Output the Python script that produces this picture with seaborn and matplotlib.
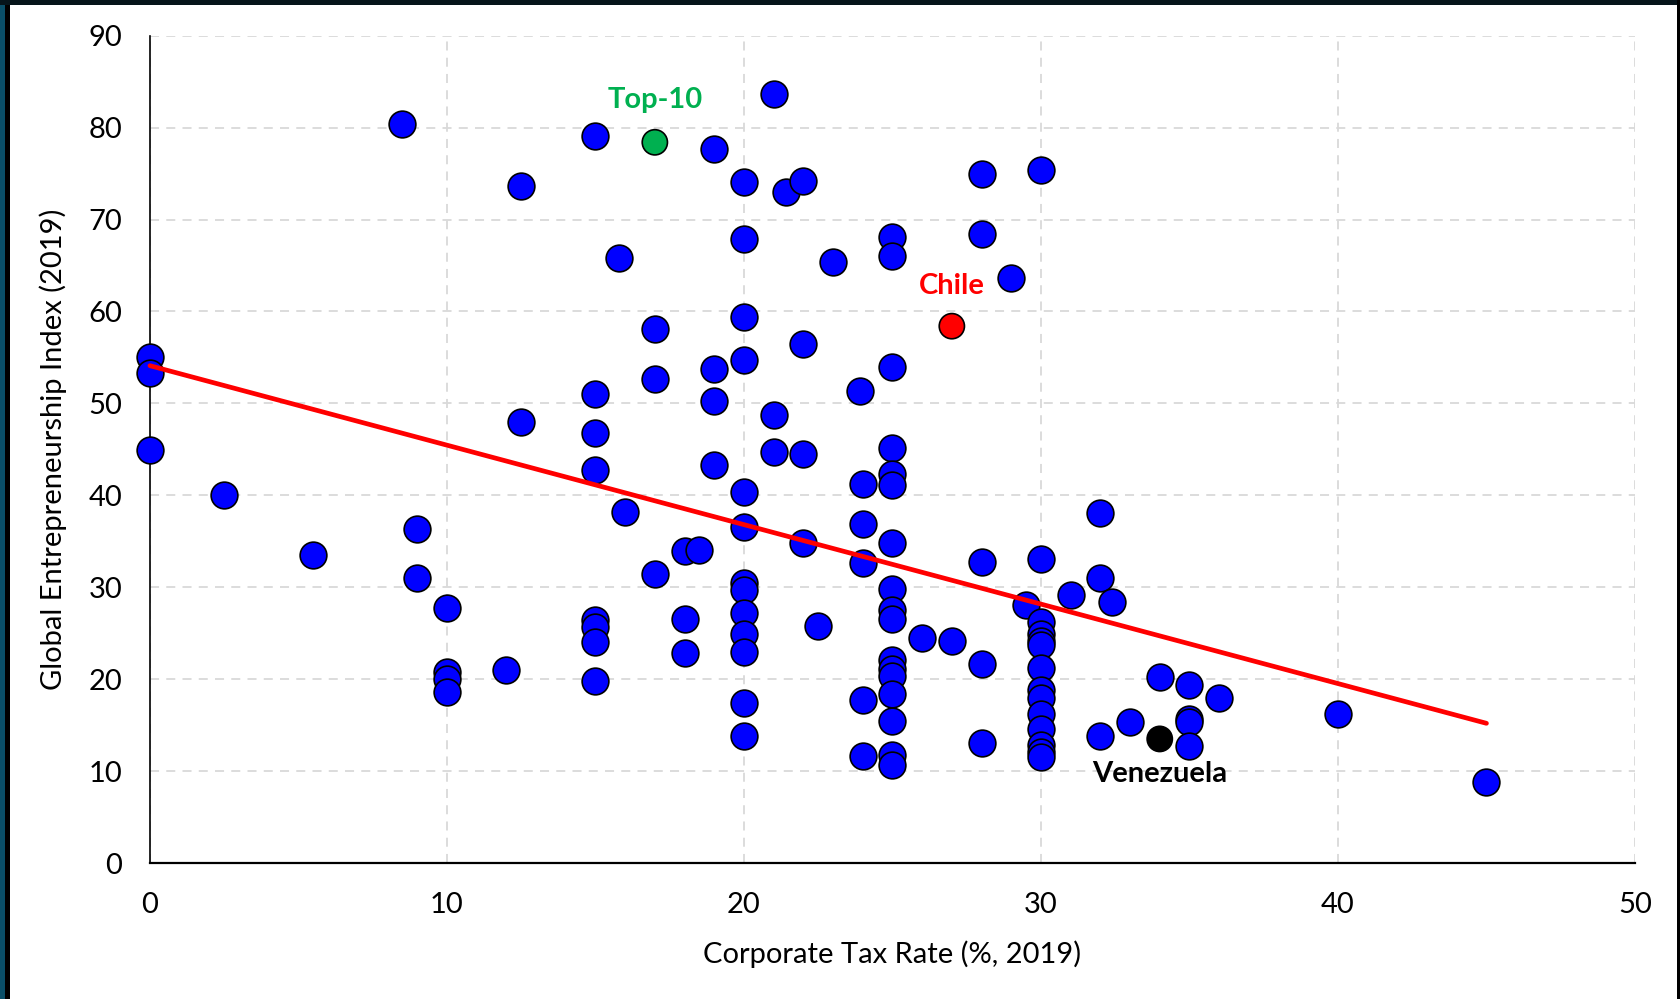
import numpy as np
import pandas as pd
import matplotlib
matplotlib.use("Agg")
import matplotlib.pyplot as plt
from matplotlib.patches import Rectangle
import seaborn as sns

# Corporate tax rate (%) and Global Entrepreneurship Index, 2019
tax_rate = [
    0, 0, 0,
    2.5, 5.5, 8.5, 9, 9,
    10, 10, 10, 10,
    12, 12.5, 12.5,
    15, 15, 15, 15, 15, 15, 15, 15,
    15.8, 16, 17, 17, 17,
    18, 18, 18, 18.5,
    19, 19, 19, 19,
    20, 20, 20, 20, 20, 20, 20, 20, 20, 20, 20, 20, 20,
    21, 21, 21, 21.4,
    22, 22, 22, 22, 22.5, 23, 23.9,
    24, 24, 24, 24, 24,
    25, 25, 25, 25, 25, 25, 25, 25, 25, 25, 25, 25, 25, 25, 25, 25, 25,
    26, 27,
    28, 28, 28, 28, 28, 29, 29.5,
    30, 30, 30, 30, 30, 30, 30, 30, 30, 30, 30, 30, 30, 30,
    31, 32, 32, 32, 32.4, 33, 34,
    35, 35, 35, 35, 36, 40, 45,
]
gei_index = [
    55.0, 53.3, 44.9,
    40.0, 33.5, 80.4, 36.3, 31.0,
    27.7, 20.8, 20.0, 18.6,
    21.0, 73.7, 48.0,
    79.1, 51.0, 46.8, 42.7, 26.4, 25.7, 24.0, 19.8,
    65.8, 38.2, 58.1, 52.6, 31.4,
    33.9, 26.6, 22.8, 34.1,
    77.7, 53.7, 50.3, 43.3,
    74.1, 67.9, 59.4, 54.7, 40.4, 36.5, 30.5, 29.7, 27.2, 24.9, 23.0, 17.4, 13.8,
    83.6, 48.7, 44.7, 73.0,
    74.2, 56.5, 44.5, 34.8, 25.8, 65.4, 51.3,
    41.2, 36.9, 32.6, 17.7, 11.6,
    68.1, 66.0, 54.0, 45.1, 42.3, 41.1, 34.8, 29.8, 27.5, 26.5, 22.1, 21.1, 20.3, 18.4, 15.5, 11.7, 10.7,
    24.5, 24.1,
    74.9, 68.4, 32.8, 21.7, 13.1, 63.6, 28.1,
    75.4, 33.1, 26.2, 24.9, 24.2, 23.7, 21.2, 18.8, 18.0, 16.2, 14.6, 12.8, 12.1, 11.5,
    29.2, 38.1, 31.0, 13.8, 28.4, 15.3, 20.2,
    19.4, 15.7, 15.3, 12.7, 18.0, 16.2, 8.8,
]

# Highlighted countries
highlight_names = ["Top-10", "Chile", "Venezuela"]
highlight_tax = [17, 27, 34]
highlight_gei = [78.4, 58.4, 13.5]
highlight_colors = ["#00b050", "#ff0000", "#000000"]
label_y = [83.0, 62.8, 9.7]

# Linear trend endpoints
trend_tax = [0, 45]
trend_gei = [54.1, 15.2]

x_ticks = [0, 10, 20, 30, 40, 50]
y_ticks = [0, 10, 20, 30, 40, 50, 60, 70, 80, 90]

sns.set_theme(style="white")
plt.rcParams["font.family"] = ["Lato", "DejaVu Sans"]

fig = plt.figure(figsize=(16.81, 9.99), dpi=100)
fig.patch.set_facecolor("white")
ax = fig.add_axes([0.0892, 0.1361, 0.8834, 0.8282])

df = pd.DataFrame({"tax": tax_rate, "gei": gei_index})
sns.scatterplot(data=df, x="tax", y="gei", ax=ax, s=370, color="#0000ff",
                edgecolor="black", linewidth=1.2, zorder=3, legend=False)

trend = pd.DataFrame({"tax": trend_tax, "gei": trend_gei})
sns.lineplot(data=trend, x="tax", y="gei", ax=ax, color="#ff0000",
             linewidth=3.4, zorder=4, legend=False)

hl = pd.DataFrame({"name": highlight_names, "tax": highlight_tax, "gei": highlight_gei})
sns.scatterplot(data=hl, x="tax", y="gei", hue="name", palette=highlight_colors,
                ax=ax, s=330, edgecolor="black", linewidth=1.2, zorder=5, legend=False)

for coll in ax.collections:
    coll.set_clip_on(False)
for line in ax.lines:
    line.set_clip_on(False)

for name, tx, ly, col in zip(highlight_names, highlight_tax, label_y, highlight_colors):
    ax.text(tx, ly, name, color=col, fontsize=21, fontweight="bold",
            ha="center", va="center", zorder=6)

ax.set_xlim(0, 50)
ax.set_ylim(0, 90)
ax.set_xticks(x_ticks)
ax.set_yticks(y_ticks)
ax.grid(True, color="#d9d9d9", linestyle=(0, (5, 4)), linewidth=1.3)
ax.set_axisbelow(True)
for side in ["top", "right"]:
    ax.spines[side].set_visible(False)
ax.spines["left"].set_color("black")
ax.spines["left"].set_linewidth(1.2)
ax.spines["bottom"].set_color("black")
ax.spines["bottom"].set_linewidth(1.6)
ax.spines["left"].set_zorder(2)
ax.tick_params(axis="both", length=0, labelsize=21, colors="black")
ax.tick_params(axis="x", pad=21)
ax.tick_params(axis="y", pad=20)
ax.set_xlabel("Corporate Tax Rate (%, 2019)", fontsize=21, labelpad=16, color="black")
ax.set_ylabel("Global Entrepreneurship Index (2019)", fontsize=21, labelpad=15, color="black")

# Frame around the canvas
W, H = 1681, 999
def px_rect(x, y, w, h, color):
    fig.patches.append(Rectangle((x / W, 1 - (y + h) / H), w / W, h / H,
                                 transform=fig.transFigure, color=color,
                                 zorder=10, linewidth=0))
px_rect(0, 0, 5, H, "#0a4f68")
px_rect(5, 0, 5, H, "#000000")
px_rect(0, 0, W, 5, "#06141a")
px_rect(W - 4, 0, 4, H, "#000000")

fig.savefig("out.png", dpi=100, facecolor="white")
